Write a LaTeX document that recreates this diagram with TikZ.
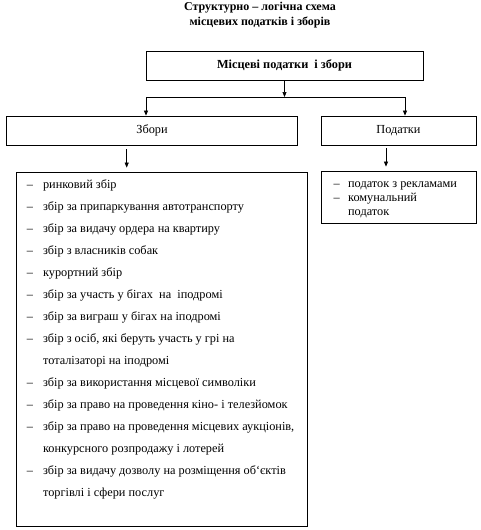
\documentclass[tikz,border=0pt]{standalone}
\usepackage{fontspec}
\setmainfont{Liberation Serif}
\usetikzlibrary{arrows.meta, positioning}

\tikzset{
  box/.style={draw, line width=0.8pt, inner sep=0pt, minimum height=29pt},
  arr/.style={-{Triangle[length=5pt,width=4pt]}, line width=0.7pt},
  items/.style={anchor=north west, inner sep=0pt, align=left},
}

\begin{document}
\begin{tikzpicture}[x=1pt, y=-1pt, font=\fontsize{12.3}{14}\selectfont]
  \useasboundingbox (0,0) rectangle (480,530);
  % title
  \node[font=\bfseries\fontsize{12}{15}\selectfont, align=center] (title) at (260,15.5)
    {Структурно -- логічна схема\\місцевих податків і зборів};
  % boxes
  \node[box, minimum width=277pt, font=\bfseries\fontsize{12.3}{14}\selectfont] (main) at (284.5,65.5) {Місцеві податки\ \ і збори};
  \node[box, minimum width=291.5pt] (zbory) at (152,130.5) {Збори};
  \node[box, minimum width=155pt] (podatky) at (398.5,130.5) {Податки};
  \node[box, minimum width=291pt, minimum height=354pt] (zbory list) at (161.5,349) {};
  \node[box, minimum width=154.5pt, minimum height=52pt] (podatky list) at (398.75,197) {};
  % arrows
  \coordinate (split) at (284.5,97);
  \coordinate (split left) at (146,97);
  \coordinate (split right) at (405,97);
  \draw[arr] (main.south) -- (split);
  \draw[line width=0.7pt] (split left) -- (split right);
  \draw[arr] (split left) -- (split left |- zbory.north);
  \draw[arr] (split right) -- (split right |- podatky.north);
  \draw[arr, shorten <=4pt, shorten >=4pt] ([xshift=-25.3pt]zbory.south) -- ([xshift=-25.3pt]zbory.south |- zbory list.north);
  \draw[arr, shorten <=3pt, shorten >=4pt] ([xshift=-12.5pt]podatky.south) -- ([xshift=-12.5pt]podatky.south |- podatky list.north);
  % list texts
  \node[items, font=\fontsize{12.3}{22}\selectfont] (zbory items) at (26.7,172.6) {%
    \begin{tabular}{@{}l@{\hspace{10pt}}l@{}}
      -- & ринковий збір\\
      -- & збір за припаркування автотранспорту\\
      -- & збір за видачу ордера на квартиру\\
      -- & збір з власників собак\\
      -- & курортний збір\\
      -- & збір за участь у бігах\ \ на\ \ іподромі\\
      -- & збір за виграш у бігах на іподромі\\
      -- & збір з осіб, які беруть участь у грі на\\
         & тоталізаторі на іподромі\\
      -- & збір за використання місцевої символіки\\
      -- & збір за право на проведення кіно- і телезйомок\\
      -- & збір за право на проведення місцевих аукціонів,\\
         & конкурсного розпродажу і лотерей\\
      -- & збір за видачу дозволу на розміщення об`єктів\\
         & торгівлі і сфери послуг
    \end{tabular}};
  \node[items] (podatky items) at (333.3,177.2) {%
    \begin{tabular}{@{}l@{\hspace{8.5pt}}l@{}}
      -- & податок з рекламами\\
      -- & комунальний\\
         & податок
    \end{tabular}};
\end{tikzpicture}
\end{document}
